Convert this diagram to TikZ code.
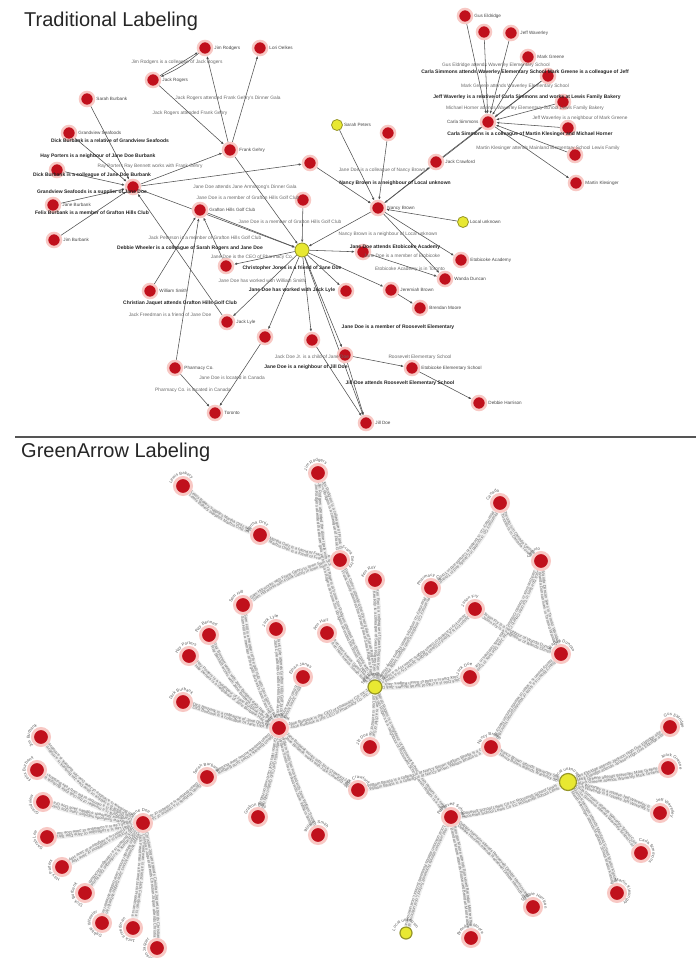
\documentclass[tikz,border=0pt]{standalone}
\usepackage{fontspec}
\setmainfont{Liberation Sans}
\usetikzlibrary{arrows.meta,decorations.text}
\definecolor{nodered}{RGB}{192,16,28}
\definecolor{halo}{RGB}{248,200,196}
\definecolor{nodeyel}{RGB}{232,232,50}
\definecolor{yelrim}{RGB}{150,150,40}
\definecolor{edgegray}{RGB}{80,80,80}
\definecolor{labgray}{RGB}{70,70,70}
\definecolor{clutdark}{RGB}{35,35,35}
\definecolor{clutlight}{RGB}{105,105,105}
\definecolor{bandgray}{RGB}{238,238,238}
\definecolor{bandtext}{RGB}{110,110,110}
\definecolor{ringtext}{RGB}{90,90,90}
\definecolor{rulegray}{RGB}{85,85,85}
\pgfdeclarelayer{back}
\pgfdeclarelayer{bg}
\pgfsetlayers{back,bg,main}
\newcommand\gafont{\fontsize{4.1}{4.1}\selectfont\color{bandtext}}
\newcommand\ringfont{\fontsize{4.2}{4.2}\selectfont\color{ringtext}}
\newcommand\gedge[4]{%
  \draw[gband] (#1) to[bend left=#3] (#2);
  \path[decorate,decoration={text along path,raise=0.2pt,text={|\gafont|#4  #4  #4}}] (#1) to[bend left=#3] (#2);
  \path[decorate,decoration={text along path,raise=-3.2pt,text={|\gafont|  #4  #4  #4}}] (#1) to[bend left=#3] (#2);}
\newcommand\gring[3]{%
  \path[decorate,decoration={text along path,raise=0.3pt,text={|\ringfont|#3}}] ([shift={(#2:11pt)}]#1.center) arc[start angle=#2,end angle=#2-200,radius=11pt];}
\begin{document}
\begin{tikzpicture}[x=1pt,y=-1pt,
  title/.style={font=\fontsize{20}{22}\selectfont, text=black!85, inner sep=0pt, anchor=west},
  tnode/.style={circle, fill=nodered, draw=halo, line width=2.5pt, minimum size=14pt, inner sep=0pt},
  tyel/.style={circle, fill=nodeyel, draw=yelrim, line width=0.8pt, minimum size=11pt, inner sep=0pt},
  tlab/.style={font=\fontsize{4.6}{5}\selectfont, text=labgray, inner sep=1pt},
  tedge/.style={draw=edgegray, line width=0.55pt, -{Latex[length=3pt,width=2.4pt]}},
  clutd/.style={font=\fontsize{5}{5}\selectfont\bfseries, text=clutdark, inner sep=0pt},
  clutl/.style={font=\fontsize{4.8}{5}\selectfont, text=clutlight, inner sep=0pt},
  bnode/.style={circle, fill=nodered, draw=halo, line width=3pt, minimum size=17pt, inner sep=0pt},
  byel/.style={circle, fill=nodeyel, draw=yelrim, line width=1.2pt, minimum size=14pt, inner sep=0pt},
  gband/.style={draw=bandgray, line width=7pt}]
\useasboundingbox (0,0) rectangle (696,958);
\begin{pgfonlayer}{back}
\fill[white] (0,0) rectangle (696,958);
\end{pgfonlayer}

% ---------------- titles and rule
\node[title] (title1) at (24,21) {Traditional Labeling};
\node[title] (title2) at (21,452) {GreenArrow Labeling};
\draw[rulegray, line width=1.6pt] (15,437) -- (696,437);

% ---------------- top panel nodes
\node[tnode,label={[tlab]right:Jim Rodgers}] (t1) at (205,48) {};
\node[tnode,label={[tlab]right:Lori Oelkes}] (t2) at (260,48) {};
\node[tnode,label={[tlab]right:Jack Rogers}] (t3) at (153,80) {};
\node[tnode,label={[tlab]right:Sarah Burbank}] (t4) at (87,99) {};
\node[tnode,label={[tlab]right:Grandview Seafoods}] (t5) at (69,133) {};
\node[tnode,label={[tlab]right:Frank Gehry}] (t6) at (230,150) {};
\node[tnode] (t7) at (57,170) {};
\node[tnode] (t8) at (133,187) {};
\node[tnode,label={[tlab]right:Jane Burbank}] (t9) at (53,205) {};
\node[tnode,label={[tlab]right:Grafton Hills Golf Club}] (t10) at (200,210) {};
\node[tnode] (t11) at (310,163) {};
\node[tnode] (t12) at (303,200) {};
\node[tnode,label={[tlab]right:Jim Burbank}] (t13) at (54,240) {};
\node[tyel,label={[tlab]right:Sarah Peters}] (ty1) at (337,125) {};
\node[tnode,label={[tlab]right:Gus Eldridge}] (tb1) at (465,16) {};
\node[tnode] (tb2) at (484,32) {};
\node[tnode,label={[tlab]right:Jeff Waverley}] (tb3) at (511,33) {};
\node[tnode,label={[tlab]right:Mark Greene}] (tb4) at (528,57) {};
\node[tnode] (tb5) at (548,76) {};
\node[tnode] (tb6) at (563,102) {};
\node[tnode,label={[tlab]left:Carla Simmons}] (tb7) at (488,122) {};
\node[tnode] (tb8) at (568,128) {};
\node[tnode] (tb9) at (388,133) {};
\node[tnode] (tb10) at (575,155) {};
\node[tnode,label={[tlab]right:Jack Crawford}] (tb11) at (436,162) {};
\node[tnode,label={[tlab]right:Martin Klesinger}] (tb12) at (576,183) {};
\node[tnode,label={[tlab]right:Nancy Brown}] (tb13) at (378,208) {};
\node[tyel,label={[tlab]right:Local unknown}] (ty2) at (463,222) {};
\node[tyel,minimum size=14pt] (ty3) at (302,250) {};
\node[tnode] (c2) at (226,266) {};
\node[tnode,label={[tlab]right:William Smith}] (c3) at (150,291) {};
\node[tnode] (c4) at (346,291) {};
\node[tnode,label={[tlab]right:Jack Lyle}] (c5) at (227,322) {};
\node[tnode] (c6) at (265,337) {};
\node[tnode] (c7) at (312,340) {};
\node[tnode] (c8) at (345,355) {};
\node[tnode,label={[tlab]right:Pharmacy Co.}] (c9) at (175,368) {};
\node[tnode,label={[tlab]right:Toronto}] (c10) at (215,413) {};
\node[tnode] (d1) at (363,252) {};
\node[tnode,label={[tlab]right:Etobicoke Academy}] (d2) at (461,260) {};
\node[tnode,label={[tlab]right:Wanda Duncan}] (d3) at (445,279) {};
\node[tnode,label={[tlab]right:Jeremiah Brown}] (d5) at (391,290) {};
\node[tnode,label={[tlab]right:Brendan Moore}] (d6) at (420,308) {};
\node[tnode,label={[tlab]right:Etobicoke Elementary School}] (d8) at (412,368) {};
\node[tnode,label={[tlab]right:Debbie Harrison}] (d9) at (479,403) {};
\node[tnode,label={[tlab]right:Jill Doe}] (d10) at (366,423) {};

% ---------------- top clutter labels
\foreach \x/\y/\t [count=\i] in {
 110/141/Dick Burbank is a relative of Grandview Seafoods,
 98/156/Hay Porters is a neighbour of Jane Doe Burbank,
 92/175/Dick Burbank is a colleague of Jane Doe Burbank,
 92/192/Grandview Seafoods is a supplier of Jane Doe,
 92/213/Felix Burbank is a member of Grafton Hills Club,
 190/248/Debbie Wheeler is a colleague of Sarah Rogers and Jane Doe,
 292/268/Christopher Jones is a friend of Jane Doe,
 292/290/Jane Doe has worked with Jack Lyle,
 180/303/Christian Jaquet attends Grafton Hills Golf Club,
 306/367/Jane Doe is a neighbour of Jill Doe,
 525/72/Carla Simmons attends Waverley Elementary School  Mark Greene is a colleague of Jeff,
 527/97/Jeff Waverley is a relative of Carla Simmons and works at Lewis Family Bakery,
 530/134/Carla Simmons is a colleague of Martin Klesinger and Michael Horner,
 395/183/Nancy Brown is a neighbour of Local unknown,
 395/247/Jane Doe attends Etobicoke Academy,
 398/327/Jane Doe is a member of Roosevelt Elementary,
 400/383/Jill Doe attends Roosevelt Elementary School}
 { \node[clutd] (cd\i) at (\x,\y) {\t}; }
\foreach \x/\y/\t [count=\i] in {
 177/62/Jim Rodgers is a colleague of Jack Rogers,
 228/98/Jack Rogers attended Frank Gehry's Dinner Gala,
 190/113/Jack Rogers attended Frank Gehry,
 150/166/Ray Porters   Ray Bennett   works with Frank Gehry,
 245/187/Jane Doe attends Jane Armstrong's Dinner Gala,
 248/198/Jane Doe is a member of Grafton Hills Golf Club,
 290/222/Jane Doe is a member of Grafton Hills Golf Club,
 205/238/Jack Peterson is a member of Grafton Hills Golf Club,
 252/257/Jane Doe is the CEO of Pharmacy Co.,
 262/281/Jane Doe has worked with William Smith,
 170/315/Jack Freedman is a friend of Jane Doe,
 312/357/Jack Doe Jr. is a child of Jane Doe,
 232/378/Jane Doe is located in Canada,
 193/390/Pharmacy Co. is located in Canada,
 496/65/Gus Eldridge attends Waverley Elementary School,
 515/86/Mark Greene attends Waverley Elementary School,
 525/108/Michael Horner attends Waverley Elementary School  Lewis Family Bakery,
 580/118/Jeff Waverley is a neighbour of Mark Greene,
 548/148/Martin Klesinger attends Mainland Elementary School  Lewis Family,
 382/170/Jane Doe is a colleague of Nancy Brown,
 388/234/Nancy Brown is a neighbour of Local unknown,
 402/256/Jane Doe is a member of Etobicoke,
 410/269/Etobicoke Academy is in Toronto,
 420/357/Roosevelt Elementary School}
 { \node[clutl] (cl\i) at (\x,\y) {\t}; }

% ---------------- bottom panel nodes
\foreach \n/\x/\y in {
 b1/183/486, b2/318/473, b3/260/535, b4/340/560, b5/243/605, b6/276/629,
 b7/327/633, b8/209/635, b9/189/656, b10/303/677, b11/183/702, bH/279/728,
 bI/370/747, bF1/500/503, bF2/541/561, bF3/375/580, bF4/431/588, bF5/475/609,
 bF6/561/654, bF7/470/677, bJ/491/747, bK1/670/727, bK2/668/768, bK3/660/813,
 bK4/641/853, bK5/617/893, bM/358/790, bN/451/817, bN2/533/907, bN3/471/938,
 bQ/207/777, bR/143/823, bS1/258/817, bS2/318/835, bP1/41/737, bP2/37/770,
 bP3/43/802, bP4/47/837, bP5/62/867, bP6/85/893, bP7/102/923, bP8/133/928,
 bP9/157/948}
 { \node[bnode] (\n) at (\x,\y) {}; }
\node[byel] (bG) at (375,687) {};
\node[byel,minimum size=17pt] (bL) at (568,782) {};
\node[byel,minimum size=12pt] (bY) at (406,933) {};

% rings of node labels
\gring{b1}{170}{Lewis Bakery}
\gring{b2}{170}{Jim Rodgers}
\gring{b3}{170}{Martha Ortiz}
\gring{b4}{80}{Frank Gehry}
\gring{b5}{170}{Sam Hill}
\gring{b6}{170}{Jack Lyle}
\gring{b7}{170}{Ann Hart}
\gring{b8}{170}{Ray Bennett}
\gring{b9}{170}{Hay Porters}
\gring{b10}{170}{Ethan Jones}
\gring{b11}{170}{Dick Burbank}
\gring{bH}{170}{Jane Burbank}
\gring{bI}{170}{Jill Doe}
\gring{bF1}{170}{Canada}
\gring{bF2}{170}{Toronto}
\gring{bF3}{170}{Ken Roy}
\gring{bF4}{170}{Pharmacy Co.}
\gring{bF5}{170}{Jason Fry}
\gring{bF6}{160}{Wanda Duncan}
\gring{bF7}{170}{Jack Doe}
\gring{bJ}{170}{Nancy Brown}
\gring{bK1}{120}{Gus Eldridge}
\gring{bK2}{120}{Mark Greene}
\gring{bK3}{110}{Jeff Waverley}
\gring{bK4}{100}{Carla Simmons}
\gring{bK5}{100}{Martin Klesinger}
\gring{bM}{170}{Jack Crawford}
\gring{bN}{170}{Roosevelt School}
\gring{bN2}{150}{Debbie Harrison}
\gring{bN3}{170}{Brendan Moore}
\gring{bQ}{170}{Sarah Burbank}
\gring{bR}{150}{Jane Doe}
\gring{bS1}{170}{Grafton Hills}
\gring{bS2}{170}{William Smith}
\gring{bP1}{230}{Jim Burbank}
\gring{bP2}{240}{Felix Burbank}
\gring{bP3}{250}{Grandview}
\gring{bP4}{250}{Sarah Lee}
\gring{bP5}{260}{Hay Porters}
\gring{bP6}{260}{Dick Burbank}
\gring{bP7}{270}{Debbie Wheeler}
\gring{bP8}{280}{Jack Freedman}
\gring{bP9}{290}{Christian Jaquet}
\gring{bG}{170}{Sarah Rogers}
\gring{bL}{170}{Local unknown}
\gring{bY}{170}{Local unknown}

% ---------------- connectors (background layer)
\begin{pgfonlayer}{bg}
\foreach \a/\b in {t3/t1, t6/t1, t6/t2, t3/t6, t6/ty3, t4/t8, t5/t8, t7/t8, t9/t8, t13/t8,
  t8/t6, t8/t11, t8/ty3, t10/ty3, t12/ty3, t11/tb13, tb13/tb11, tb11/tb7, tb9/tb13, ty1/tb13,
  ty2/tb13, tb13/ty3, tb13/d2, tb13/d3, tb1/tb7, tb2/tb7, tb3/tb7, tb4/tb7, tb5/tb7, tb6/tb7,
  tb8/tb7, tb10/tb7, tb7/tb12, tb5/tb13, ty3/c2, ty3/c4, ty3/c5, ty3/c6, ty3/c7, ty3/c8,
  ty3/d1, ty3/d5, ty3/d10, c9/t10, c3/t10, c9/c10, c6/c10, c8/d8, d8/d9, d5/d6, c8/d10,
  c7/d10, d1/d3, c2/t10, c5/t8}
  { \draw[tedge] (\a) -- (\b); }
\draw[tedge] (t1) to[bend left=8] (t3);

\gedge{b1}{b3}{-10}{Lewis Bakery supplies Martha Ortiz and Co}
\gedge{b3}{b4}{-8}{Martha Ortiz is a friend of Frank Gehry}
\gedge{b2}{b4}{10}{Jim Rodgers is a colleague of Frank Gehry}
\gedge{b2}{bG}{-14}{Jim Rodgers attended the dinner gala with Sarah Rogers at home}
\gedge{b4}{bG}{8}{Frank Gehry attended the dinner gala of Sarah Rogers}
\gedge{b5}{b4}{10}{Sam Hill works with Frank Gehry in town}
\gedge{b5}{bH}{-10}{Sam Hill is a member of the golf club with Jane}
\gedge{b8}{bH}{-12}{Ray Bennett works with Jane Burbank daily}
\gedge{b9}{bH}{-6}{Hay Porters is a neighbour of Jane Burbank}
\gedge{b11}{bH}{-4}{Dick Burbank is a colleague of Jane}
\gedge{b6}{bH}{5}{Jack Lyle attends Grafton Hills Golf}
\gedge{b10}{bH}{0}{Ethan Jones knows Jane}
\gedge{b7}{bG}{-5}{Ann Hart knows Sarah Rogers}
\gedge{bH}{bG}{-12}{Jane Burbank is the CEO of Pharmacy Co. Inc}
\gedge{bF3}{bG}{5}{Ken Roy is a colleague of Sarah Rogers}
\gedge{bF4}{bG}{8}{Pharmacy Co. employs Sarah Rogers today}
\gedge{bF5}{bG}{6}{Jason Fry is a friend of Sarah Rogers}
\gedge{bF7}{bG}{4}{Jack Doe is a child of Sarah Rogers}
\gedge{bF1}{bF4}{12}{Pharmacy Co. is located in Canada and in Toronto}
\gedge{bF1}{bF2}{-15}{Toronto is in Canada}
\gedge{bF2}{bF7}{10}{Jack Doe lives in Toronto Ontario Canada}
\gedge{bF2}{bF6}{-8}{Wanda Duncan lives in Toronto}
\gedge{bF5}{bF6}{-8}{Jason Fry is a neighbour of Wanda Duncan}
\gedge{bF6}{bJ}{-8}{Nancy Brown is a sister of Wanda Duncan}
\gedge{bG}{bI}{8}{Jill Doe is a child of Sarah}
\gedge{bG}{bN}{-10}{Sarah Rogers is a neighbour of Roosevelt School}
\gedge{bH}{bQ}{10}{Sarah Burbank knows Jane Burbank}
\gedge{bQ}{bR}{8}{Sarah Burbank is a relative of Jane Doe}
\gedge{bH}{bS1}{5}{Grafton Hills Golf Club}
\gedge{bH}{bS2}{-5}{William Smith has worked with Jane}
\gedge{bH}{bM}{-6}{Jane Burbank works with Jack Crawford}
\gedge{bM}{bJ}{-6}{William Bhatia is a colleague of Nancy Brown}
\gedge{bJ}{bL}{-6}{Nancy Brown attends Waverley School}
\gedge{bN}{bL}{-8}{Roosevelt School Lewis Co Inc}
\gedge{bN}{bY}{-6}{Local unknown attends Roosevelt School}
\gedge{bN}{bN3}{4}{Brendan Moore attends Roosevelt}
\gedge{bN}{bN2}{8}{Debbie Harrison attends Roosevelt}
\gedge{bL}{bK1}{-8}{Gus Eldridge attends Jackson High}
\gedge{bL}{bK2}{-4}{Mark Greene attends Waverley}
\gedge{bL}{bK3}{4}{Jeff Waverley is a relative}
\gedge{bL}{bK4}{8}{Carla Simmons attends Waverley School}
\gedge{bL}{bK5}{10}{Martin Klesinger attends Mainland School}
\gedge{bR}{bP1}{12}{Jim Burbank is a relative of Jane Doe}
\gedge{bR}{bP2}{8}{Felix Burbank is a member of the club}
\gedge{bR}{bP3}{5}{Grandview Seafoods supplies Jane Doe}
\gedge{bR}{bP4}{2}{Sarah Lee is a colleague of Jane Doe}
\gedge{bR}{bP5}{-2}{Hay Porters is a neighbour of Jane}
\gedge{bR}{bP6}{-4}{Dick Burbank is a colleague}
\gedge{bR}{bP7}{-4}{Debbie Wheeler knows Jane}
\gedge{bR}{bP8}{4}{Jack Freedman is a friend}
\gedge{bR}{bP9}{6}{Christian Jaquet attends}
\end{pgfonlayer}
\end{tikzpicture}
\end{document}
